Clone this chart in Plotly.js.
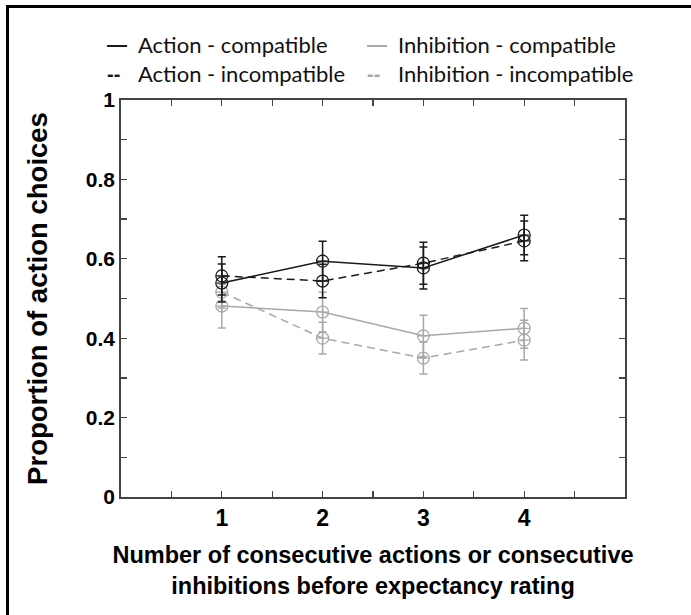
<!DOCTYPE html>
<html>
<head>
<meta charset="utf-8">
<script src="https://cdn.plot.ly/plotly-3.0.1.min.js"></script>
<style>
  html, body { margin: 0; padding: 0; background: #fff; }
  #wrap { position: relative; width: 691px; height: 615px; overflow: hidden; }
  #frame { position: absolute; left: 6px; top: 5px; width: 700px; height: 700px;
           border-left: 3px solid #000; border-top: 3px solid #000; pointer-events: none; z-index: 5; }
  #chart { position: absolute; left: 0; top: 0; width: 691px; height: 615px; }
</style>
</head>
<body>
<div id="wrap">
  <div id="chart"></div>
  <div id="frame"></div>
</div>
<script>
// ---- data ----
const runLengths = [1, 2, 3, 4];

const actionCompatible      = [0.539, 0.594, 0.577, 0.660];
const actionCompatibleErr   = [0.048, 0.050, 0.053, 0.050];

const actionIncompatible    = [0.557, 0.544, 0.589, 0.645];
const actionIncompatibleErr = [0.048, 0.042, 0.053, 0.050];

const inhibCompatible       = [0.481, 0.466, 0.406, 0.425];
const inhibCompatibleErr    = [0.055, 0.050, 0.052, 0.050];

const inhibIncompatible     = [0.516, 0.400, 0.350, 0.395];
const inhibIncompatibleErr  = [0.040, 0.040, 0.040, 0.050];

const xTickVals = [0.5, 1, 1.5, 2, 2.5, 3, 3.5, 4, 4.5];
const xTickText = ['', '1', '', '2', '', '3', '', '4', ''];
const yTickVals = [0, 0.1, 0.2, 0.3, 0.4, 0.5, 0.6, 0.7, 0.8, 0.9, 1];
const yTickText = ['0', '', '0.2', '', '0.4', '', '0.6', '', '0.8', '', '1'];

const seriesNames = ['Action - compatible', 'Action - incompatible',
                     'Inhibition - compatible', 'Inhibition - incompatible'];

// ---- styles ----
const BLACK = '#1a1a1a';
const GREY = '#a8a8a8';
const DASH = '8px,5px';

function series(name, y, err, color, dash) {
  return {
    type: 'scatter', mode: 'lines+markers', name: name,
    x: runLengths, y: y,
    line: { color: color, width: 1.5, dash: dash },
    marker: { symbol: 'circle-cross-open', size: 12, color: color, line: { width: 1.2, color: color } },
    error_y: { type: 'data', array: err, visible: true, color: color, thickness: 1.5, width: 4 },
    showlegend: false, hoverinfo: 'x+y'
  };
}

const traces = [
  series(seriesNames[2], inhibCompatible, inhibCompatibleErr, GREY, 'solid'),
  series(seriesNames[3], inhibIncompatible, inhibIncompatibleErr, GREY, DASH),
  series(seriesNames[0], actionCompatible, actionCompatibleErr, BLACK, 'solid'),
  series(seriesNames[1], actionIncompatible, actionIncompatibleErr, BLACK, DASH)
];

const L = 121, R = 625, T = 100, B = 497;
const W = 691, H = 615;
function px2x(p) { return (p - L) / (R - L); }
function py2y(p) { return (B - p) / (B - T); }

const legendFont = { family: 'Lato, "Open Sans", sans-serif', size: 22, color: '#111' };
const symFont = { family: '"Liberation Sans", Arial, sans-serif', size: 20, color: '#111' };
function legendItem(xs, xt, y, sym, color, text) {
  return [
    { xref: 'paper', yref: 'paper', x: px2x(xs), y: py2y(y),
      xanchor: 'left', yanchor: 'middle', showarrow: false,
      text: '<b>' + sym + '</b>', font: Object.assign({}, symFont, { color: color }) },
    { xref: 'paper', yref: 'paper', x: px2x(xt), y: py2y(y),
      xanchor: 'left', yanchor: 'middle', showarrow: false,
      text: text, font: legendFont }
  ];
}

const fam = '"Liberation Sans", Arial, sans-serif';

const layout = {
  width: W, height: H,
  margin: { l: L, r: W - R, t: T, b: H - B },
  paper_bgcolor: '#fff', plot_bgcolor: '#fff',
  showlegend: false,
  xaxis: {
    range: [0, 5], tickmode: 'array', tickvals: xTickVals, ticktext: xTickText,
    ticks: 'inside', ticklen: 6, tickwidth: 1.3, tickcolor: '#444',
    showline: true, linecolor: '#444', linewidth: 1.8, mirror: 'allticks',
    showgrid: false, zeroline: false,
    tickfont: { family: fam, size: 23, color: '#000', weight: 'bold' },
    title: { text: '<b>Number of consecutive actions or consecutive<br>inhibitions before expectancy rating</b>',
             font: { family: fam, size: 23.5, color: '#000' }, standoff: 16 },
    fixedrange: true
  },
  yaxis: {
    range: [0, 1], tickmode: 'array', tickvals: yTickVals, ticktext: yTickText,
    ticks: 'inside', ticklen: 6, tickwidth: 1.3, tickcolor: '#444',
    showline: true, linecolor: '#444', linewidth: 1.8, mirror: 'allticks',
    showgrid: false, zeroline: false,
    tickfont: { family: fam, size: 21, color: '#000', weight: 'bold' },
    title: { text: '<b>Proportion of action choices</b>',
             font: { family: fam, size: 27.5, color: '#000' }, standoff: 30 },
    fixedrange: true
  },
  annotations: [].concat(
    legendItem(105, 136, 44, '—', BLACK, seriesNames[0]),
    legendItem(105, 136, 74, '--', BLACK, seriesNames[1]),
    legendItem(365, 396, 44, '—', GREY, seriesNames[2]),
    legendItem(365, 396, 74, '--', GREY, seriesNames[3])
  )
};

Plotly.newPlot('chart', traces, layout, { displayModeBar: false, staticPlot: true });
</script>
</body>
</html>
